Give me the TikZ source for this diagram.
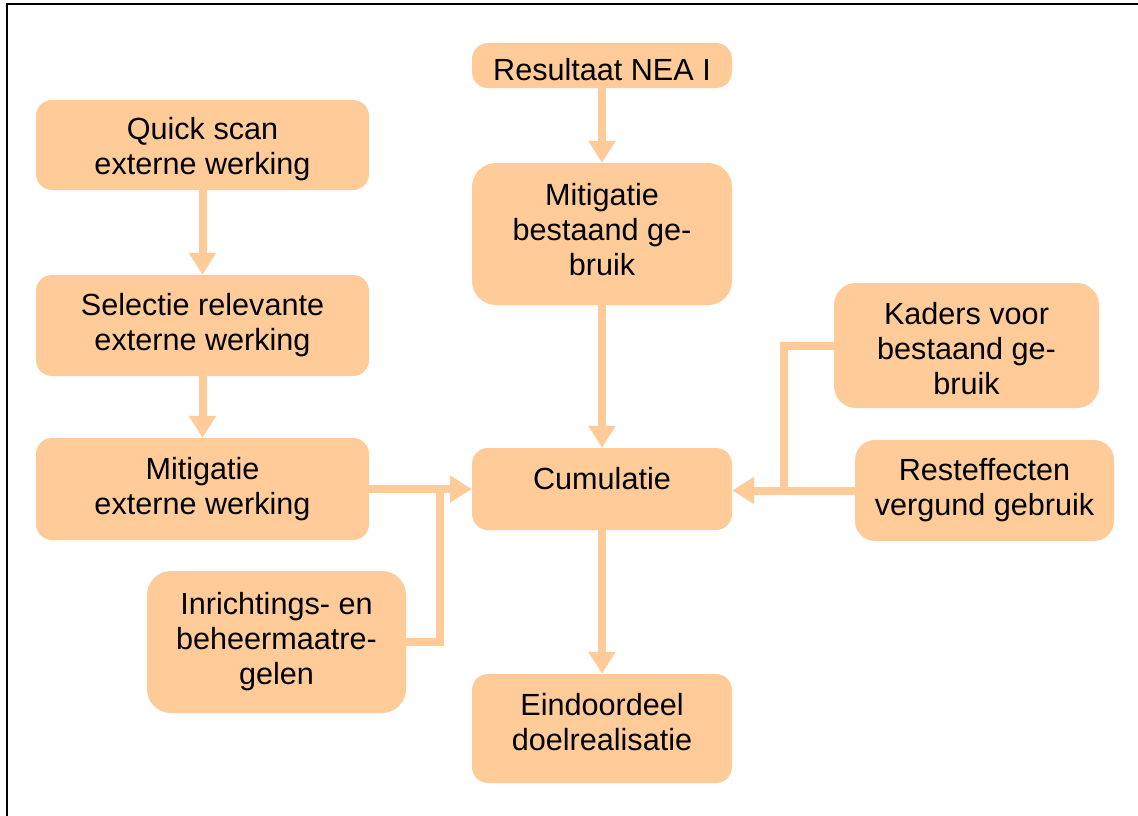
\documentclass[tikz,border=0pt]{standalone}
\usepackage{fontspec}
\setmainfont{Liberation Sans}
\usetikzlibrary{arrows.meta}
\definecolor{peach}{HTML}{FFCC99}
\tikzset{
  boxtext/.style={align=center, inner sep=0pt, font=\fontsize{30.6}{35}\selectfont},
  box/.style={fill=peach, draw=none, rounded corners=16pt, boxtext},
  lab/.style={boxtext},
  conn/.style={draw=peach, line width=8pt},
  arr/.style={conn, -{Triangle[length=22pt,width=26pt]}},
  frameline/.style={draw=black, line width=1.6pt}
}
\begin{document}
\begin{tikzpicture}[x=1pt,y=-1pt]
\useasboundingbox (0,0) rectangle (1138,816);
\fill[white] (0,0) rectangle (1138,816);
\draw[frameline] (7,816) -- (7,4) -- (1138,4);

\node[box, minimum width=260pt, minimum height=45pt,
  label={[lab,yshift=-4pt]center:Resultaat NEA I}] (nea) at (602,65.5) {};
\node[box, minimum width=333pt, minimum height=90pt,
  label={[lab,yshift=-4pt]center:{Quick scan\\externe werking}}] (qs) at (202.5,145) {};
\node[box, minimum width=333pt, minimum height=101pt] (sel) at (202.5,325.5) {Selectie relevante\\externe werking};
\node[box, minimum width=333pt, minimum height=102pt] (mext) at (202.5,489) {Mitigatie\\externe werking};
\node[box, minimum width=259pt, minimum height=142pt, rounded corners=24pt] (inr) at (276.5,642) {Inrichtings- en\\beheermaatre-\\gelen};
\node[box, minimum width=260pt, minimum height=142pt, rounded corners=24pt,
  label={[lab,yshift=4pt]center:{Mitigatie\\bestaand ge-\\bruik}}] (mbg) at (602,234) {};
\node[box, minimum width=260pt, minimum height=82pt,
  label={[lab,yshift=10pt]center:Cumulatie}] (cum) at (602,489) {};
\node[box, minimum width=260pt, minimum height=109pt,
  label={[lab,yshift=6pt]center:{Eindoordeel\\doelrealisatie}}] (eind) at (602,728.5) {};
\node[box, minimum width=265pt, minimum height=125pt, rounded corners=22pt,
  label={[lab,yshift=-3pt]center:{Kaders voor\\bestaand ge-\\bruik}}] (kad) at (966.5,345.5) {};
\node[box, minimum width=259pt, minimum height=101pt, rounded corners=20pt] (res) at (984.5,490.5) {Resteffecten\\vergund gebruik};

\coordinate (j1) at (440,489);
\coordinate (j2) at (784,490);

\draw[arr] (nea) -- (mbg);
\draw[arr] (qs) -- (sel);
\draw[arr] (sel) -- (mext);
\draw[arr] (mbg) -- (cum);
\draw[arr] (cum) -- (eind);
\draw[arr] (mext.east) -- (cum.west);
\draw[conn] (inr.east) -| (j1);
\draw[arr] (res.west) -- (res.west -| cum.east);
\draw[conn] (kad.west) -| (j2);
\end{tikzpicture}
\end{document}
